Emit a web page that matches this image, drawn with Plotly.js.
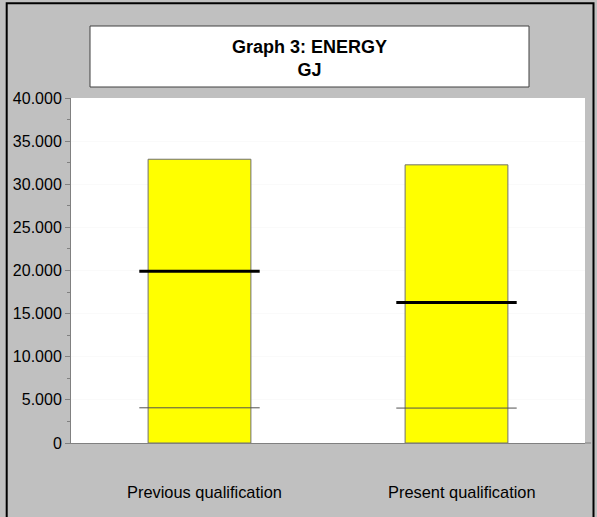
<!DOCTYPE html>
<html>
<head>
<meta charset="utf-8">
<script src="https://cdn.plot.ly/plotly-3.0.1.min.js"></script>
<style>html,body{margin:0;padding:0;background:#C0C0C0;}#chart{width:597px;height:517px;}</style>
</head>
<body>
<div id="chart"></div>
<script>
// Data
var categories = ["Previous qualification", "Present qualification"];
var barValues = [32900, 32250];
var thickLineValues = [19900, 16300];
var thinLineValues = [4080, 4050];
var yTickValues = [0, 5000, 10000, 15000, 20000, 25000, 30000, 35000, 40000];
var titleText = "Graph 3: ENERGY<br>GJ";

var FONT = "Liberation Sans, Arial, sans-serif";

var traces = [
  {
    type: "bar",
    x: categories,
    y: barValues,
    width: 0.4,
    marker: { color: "#FFFF00", line: { color: "#707070", width: 1 } },
    hoverinfo: "x+y",
    showlegend: false
  },
  {
    type: "scatter",
    mode: "markers",
    x: categories,
    y: thinLineValues,
    marker: { symbol: "line-ew", size: 86, line: { color: "#505050", width: 1 } },
    showlegend: false,
    cliponaxis: false
  },
  {
    type: "scatter",
    mode: "markers",
    x: categories,
    y: thickLineValues,
    marker: { symbol: "line-ew", size: 86, line: { color: "#000000", width: 3 } },
    showlegend: false,
    cliponaxis: false
  }
];

var L = 71, R = 12, T = 98, B = 74;
var W = 597, H = 517;
var pw = W - L - R, ph = H - T - B;
function px(x) { return (x - L) / pw; }
function py(y) { return (H - B - y) / ph; }

var annotations = categories.map(function (c) {
  return {
    x: c, xref: "x", yref: "paper", y: py(492),
    text: c, showarrow: false, xanchor: "center", yanchor: "middle",
    xshift: 5,
    font: { family: FONT, size: 16.4, color: "#000000" }
  };
});

var layout = {
  width: W,
  height: H,
  margin: { l: L, r: R, t: T, b: B, pad: 0 },
  paper_bgcolor: "#C0C0C0",
  plot_bgcolor: "#FFFFFF",
  separators: ",.",
  font: { family: FONT, size: 16, color: "#000000" },
  title: {
    text: titleText,
    font: { family: FONT, size: 18, color: "#000000", weight: "bold" },
    x: 309.5 / W,
    xanchor: "center",
    xref: "container",
    yref: "container",
    y: 1 - 53 / H,
    yanchor: "middle"
  },
  xaxis: {
    type: "category",
    range: [-0.5, 1.5],
    showline: true,
    linecolor: "#808080",
    linewidth: 1,
    ticks: "",
    showticklabels: false,
    showgrid: false,
    zeroline: false,
    fixedrange: true
  },
  yaxis: {
    range: [0, 40000],
    tickvals: yTickValues,
    tickformat: ",d",
    showline: true,
    linecolor: "#808080",
    linewidth: 1,
    ticks: "outside",
    ticklen: 5,
    tickcolor: "#808080",
    minor: { ticks: "outside", ticklen: 3, dtick: 2500, tickcolor: "#808080", showgrid: false },
    showgrid: true,
    gridcolor: "#FAFAFA",
    zeroline: false,
    tickfont: { family: FONT, size: 16, color: "#000000" },
    fixedrange: true
  },
  annotations: annotations,
  shapes: [
    {
      type: "rect", xref: "paper", yref: "paper", layer: "below",
      x0: px(6.7), x1: px(593.5), y0: py(530), y1: py(3.3),
      line: { color: "#000000", width: 2 }, fillcolor: "rgba(0,0,0,0)"
    },
    {
      type: "rect", xref: "paper", yref: "paper", layer: "above",
      x0: px(90), x1: px(529), y0: py(87), y1: py(26),
      line: { color: "#404040", width: 1 }, fillcolor: "#FFFFFF"
    },
    {
      type: "line", xref: "paper", yref: "paper", layer: "above",
      x0: 1, x1: px(591), y0: 0, y1: 0,
      line: { color: "#808080", width: 1 }
    }
  ]
};

Plotly.newPlot("chart", traces, layout, { displayModeBar: false, staticPlot: true });
</script>
</body>
</html>
